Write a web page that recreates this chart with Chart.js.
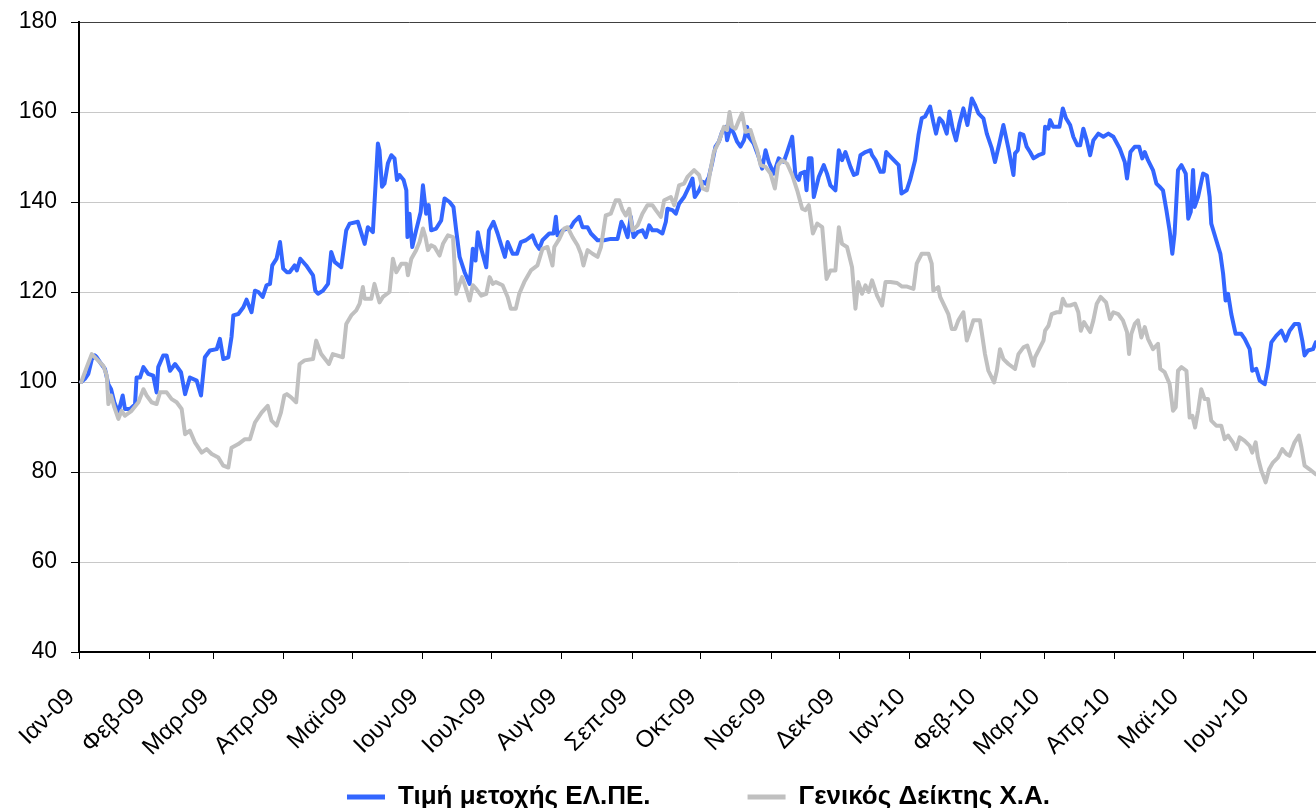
<!DOCTYPE html>
<html>
<head>
<meta charset="utf-8">
<script src="https://cdn.jsdelivr.net/npm/chart.js@4/dist/chart.umd.min.js"></script>
<style>
  html, body { margin: 0; padding: 0; background: #ffffff; overflow: hidden; width: 1316px; height: 808px; }
  #wrap { width: 1397px; height: 820px; }
  canvas { display: block; }
</style>
</head>
<body>
<div id="wrap"><canvas id="c" width="1397" height="820"></canvas></div>
<script>
// x values: calendar days since 1 Jan 2009 (trading days)
const elpeDays = [1,2.6,4.1,5.6,7.0,7.8,9.2,11.4,12.9,14.1,15.5,17.3,19.2,20.2,22.4,24.6,25.3,26.8,28.3,30.4,32.6,34.1,34.8,37.0,38.5,40.0,42.2,44.8,46.6,48.7,51.7,53.6,55.3,57.5,60.5,61.9,63.4,65.6,67.0,67.8,70.0,72.2,73.6,75.8,77.3,78.8,80.7,82.4,83.9,84.9,86.8,88.3,89.7,91.3,92.5,94.7,95.7,97.2,99.8,102.8,103.8,105.0,107.2,109.4,110.8,112.3,115.2,117.4,118.9,122.5,125.5,126.9,129.1,131.3,132.0,133.1,134.2,135.7,137.2,138.6,139.7,140.8,142.6,143.8,144.3,145.2,146.4,148.1,150.1,151.1,152.5,153.6,154.7,156.9,159.1,160.6,162.8,164.5,165.7,167.2,169.4,171.6,173.0,174.2,175.2,176.7,178.9,180.1,182.1,183.9,185.3,187.1,188.3,190.5,192.4,194.1,196.3,199.2,200.7,202.2,203.6,206.6,208.5,209.5,210.2,212.4,216.1,217.5,219.7,221.2,223.4,224.9,227.8,230.7,233.6,236.6,238.3,239.5,241.0,242.4,243.6,245.4,247.5,249.0,250.5,251.9,254.1,256.3,257.8,258.5,260.7,262.2,263.6,265.8,268.0,269.5,270.5,272.4,274.0,275.2,276.7,278.1,279.6,281.1,282.5,284.0,284.7,286.2,287.7,289.1,290.6,292.1,293.5,294.2,296.4,298.6,300.1,301.6,303.0,305.2,307.4,309.6,311.1,313.3,314.7,316.2,316.9,318.8,319.6,320.6,321.8,322.8,325.0,327.2,328.6,330.1,332.3,333.8,335.2,336.7,338.9,340.4,341.8,343.3,345.5,347.7,348.4,349.9,352.1,353.5,354.6,357.2,360.1,361.3,363.6,365.1,367.3,368.8,370.2,371.7,373.9,375.3,376.5,378.0,379.4,381.2,382.4,383.8,385.3,386.8,388.5,390.3,392.2,393.6,395.1,397.3,398.8,401.0,402.4,404.3,406.1,408.3,410.5,411.2,412.4,413.4,414.9,416.3,417.8,419.3,421.5,423.7,424.4,425.9,426.6,428.0,430.7,432.2,433.6,435.4,436.8,438.6,439.8,441.2,442.7,444.2,445.6,447.8,450.0,452.2,454.4,457.2,459.4,460.4,461.9,463.8,465.7,467.1,468.2,469.6,471.8,473.3,474.7,476.2,477.7,479.1,480.3,481.3,482.8,484.3,486.2,487.3,488.4,489.4,490.1,491.6,493.8,495.5,496.7,497.4,499.6,501.4,502.6,503.7,504.8,506.2,508.1,510.6,512.1,514.3,515.4,517.2,518.7,520.9,522.3,523.8,526.0,528.2,530.1,531.8,534.0,535.9,537.4,538.4,539.9,542.1,543.3];
const elpeValues = [100,100.7,101.8,105,105.9,105.5,104.4,102.9,99.5,98.4,95.5,93.2,97,94,94,95,101,101,103.3,101.8,101.4,97.7,103.3,105.9,105.9,102.5,104,102.2,97.3,101,100.3,97,105.5,107,107.3,109.6,105.1,105.5,110,114.8,115.1,116.6,118.3,115.5,120.3,120,118.9,121.5,121.8,125.9,127.4,131.1,125.2,124.4,124.4,125.9,124.8,127.4,125.9,123.7,120.3,119.6,120.3,121.8,128.9,126.7,125.5,133.7,135.2,135.6,130.7,134.4,133.3,153,151.5,143.4,144.1,148.6,150.4,149.7,144.9,146,144.9,142.6,132.2,137.4,130,133.7,137.8,143.7,137.4,139.3,133.7,134.1,135.9,140.8,140,138.9,133.7,127.8,124.4,121.8,129.6,127,133.3,129.6,125.5,133.7,135.6,133,130.7,127.8,131.1,128.5,128.5,131.1,131.5,132.6,130.7,129.6,131.5,133,133,136.7,132.6,133.7,134.4,135.6,136.7,134.4,134.4,133,131.5,131.5,131.8,131.8,135.6,134.4,132.2,136.7,132.2,133.3,133.7,132.2,134.8,133.7,133.7,133,135.6,138.5,138.2,137.4,139.6,141.1,143.4,145.2,141.1,142.6,144.5,144.1,145.6,148.6,152.3,153.4,155.6,156.7,153.7,156.7,155.2,153.4,152.3,153.7,156.7,154.5,153,150,147.4,151.5,148.9,146.3,149.7,148.9,151.1,154.5,146,144.9,146.3,146.7,142.6,149.7,149.7,141.1,145.6,148.2,146.3,143.7,142.6,151.5,149.3,151.1,147.8,146,146.3,150.4,151.1,151.5,150.4,149.3,146.7,146.7,151.1,149.7,148.2,141.9,142.6,144.9,149.3,154.9,158.6,159,161.2,157.8,155.2,158.6,157.8,155.2,160.1,156.3,153.7,157.5,160.8,157.1,163,161.6,159.7,158.6,155.2,151.9,148.9,153,157.1,151.9,146,150.8,151.5,155.2,154.9,152.3,151.1,149.7,150.4,150.8,156.7,156.3,158.2,156.7,156.7,160.8,158.6,157.1,154.5,152.6,152.6,156.3,153.7,150.4,153.7,155.2,154.5,155.2,154.5,151.9,148.9,145.2,151.1,152.3,152.3,149.7,151.1,149.3,147.1,144.1,143.4,142.6,138.2,133.7,128.5,133,147.1,148.2,146.3,136.3,137.8,147.1,138.9,141.1,146.3,145.9,141.1,135.2,131.5,128.5,124.1,118.1,119.6,115.1,110.7,110.7,109.6,107.3,102.5,102.9,100.3,99.5,103.3,108.8,110.3,111.4,109.2,111.4,112.9,112.9,109.2,105.9,107,107.3,108.8];

const indexDays = [1,3.4,5.6,7.8,10.7,12.2,12.9,14.1,15.5,17.3,18.7,20.2,23.1,26.1,28.3,29.7,31.9,34.1,35.6,38.5,40.7,42.9,45.1,46.6,48.7,50.9,53.9,56.1,58.3,61.2,63.4,65.6,67.0,70.0,72.9,75.1,77.3,80.2,82.9,84.6,86.8,88.7,90.2,91.3,93.2,95.4,96.9,99.1,102.8,104.2,106.4,109.8,111.5,115.9,117.4,119.6,121.8,123.3,124.7,125.5,128.4,129.8,132.0,133.5,136.4,137.9,139.4,141.6,143.8,144.5,146.0,148.1,149.6,151.1,152.2,153.3,154.7,156.2,158.4,159.9,162.1,164.3,165.7,167.2,168.3,169.8,171.6,173.0,174.5,176.7,178.9,180.4,181.8,183.1,186.1,188.3,189.7,191.9,193.4,195.6,198.5,201.4,203.6,205.8,208.0,208.8,211.0,213.1,214.6,216.8,219.0,220.5,221.6,223.4,225.6,227.8,229.3,231.4,233.6,235.8,237.3,238.8,240.2,241.7,243.2,245.4,247.5,249.7,251.9,253.4,255.6,257.1,260.0,261.5,263.6,265.8,267.3,270.2,272.4,274.0,275.9,277.4,278.9,281.1,283.3,284.7,285.8,286.9,288.4,289.6,291.3,292.8,295.0,296.4,297.9,299.4,301.6,303.8,305.7,307.1,308.9,311.1,313.3,315.5,317.7,319.1,320.6,322.4,324.3,326.5,328.4,330.1,332.3,333.8,335.2,337.4,339.6,341.1,342.3,344.0,345.5,346.9,348.4,350.6,352.8,354.3,356.5,359.4,361.6,363.8,366.6,368.0,370.2,373.2,374.6,375.3,377.5,378.3,380.5,381.9,383.4,384.9,386.3,388.5,390.0,391.5,392.9,395.8,398.0,399.5,402.0,403.2,404.6,406.1,408.3,411.2,412.7,414.9,416.6,417.8,419.3,420.0,422.2,423.7,424.4,425.9,427.3,429.5,431.0,432.2,433.6,435.4,437.6,439.0,440.1,441.5,444.2,445.6,447.1,448.8,451.2,452.9,454.4,456.5,458.6,460.4,461.3,462.3,463.8,465.2,466.7,468.2,469.6,471.8,474.0,475.0,476.9,479.1,480.6,481.8,482.8,484.3,486.5,487.9,489.1,490.3,491.6,493.0,494.5,496.0,497.4,499.6,501.8,503.3,504.8,506.9,508.4,509.9,512.1,514.3,515.4,516.9,517.9,519.4,521.3,522.8,524.5,526.7,528.6,530.4,531.8,534.0,535.9,537.0,538.4,540.6,543.3];
const indexValues = [100,103.3,106.2,105.1,103.6,101.4,95.1,97,94.4,91.8,93.6,92.5,93.6,95.5,98.4,97,95.5,95.1,97.7,97.7,96.2,95.5,94,88.4,89.2,86.6,84.3,85.1,84,83.2,81.4,81,85.4,86.2,87.3,87.3,91,93.2,94.7,91.4,90.3,93.2,97,97.3,96.6,95.5,104,104.8,105.1,109.2,106.2,104,106.2,105.5,112.9,114.8,115.9,117.4,121.1,118.5,118.5,121.8,117.7,118.9,120,127.4,124.4,126.3,126.3,123.7,127.4,129.3,131.1,134.1,132.2,129.3,130.4,130,128.1,130.7,132.6,132.2,119.6,121.8,123.3,121.1,118.1,121.5,120.7,119.2,119.6,123.3,121.8,122.2,121.5,118.9,116.3,116.3,119.6,122.2,124.8,125.9,129.6,130,125.9,130,131.8,134.1,134.4,132.2,130.4,128.5,125.9,129.3,128.5,127.8,130,137,137.4,140.4,140.4,138.2,137,138.5,133.7,134.8,137.4,139.3,139.3,138.2,136.7,140.4,141.1,139.3,143.7,144.1,145.6,147.1,146,143,142.6,147.1,151.1,153.4,156.7,156,160,156.7,156.3,157.8,159.7,155.6,156,153.7,151.5,148.2,147.8,146.3,143,148.2,149.3,148.5,146,142.6,138.5,138.2,139.3,133,135.2,134.4,122.9,124.8,124.8,134.4,130.7,130,125.5,116.3,122.2,119.6,121.5,120,122.6,119.2,117,122.2,122.2,122,121.2,121.2,120.7,126.3,128.5,128.5,126.3,120.3,121.1,118.9,116.6,115.1,111.8,111.8,113.7,115.5,109.2,111.4,113.7,113.7,106.2,102.5,99.9,102.5,107.3,105.1,104,102.9,106.2,107.7,108.1,106.2,103.6,105.5,107.7,109.2,111.4,112.5,115.1,115.5,115.5,118.5,117,117,117.4,115.5,111.4,113.3,111.1,113.7,117.4,118.9,117.7,114,115.5,115.1,113.7,111.1,106.2,110.7,112.9,113.7,109.9,112.2,109.6,107.3,108.5,102.9,102.2,99.6,93.6,94.4,102.5,103.3,102.5,92.1,92.5,89.9,93.6,98.4,96.2,96.2,91.4,90.3,90.3,87.3,88.1,86.6,85.1,87.7,86.9,85.8,84.3,86.6,83.2,80.3,77.7,80.6,82.1,83.2,85.1,84,83.6,86.6,88.1,85.5,81.4,80.6,79.5];

const monthTickDays = [0,31,59,90,120,151,181,212,243,273,304,334,365,396,424,455,485,516];
const monthTickLabels = ['Ιαν-09','Φεβ-09','Μαρ-09','Απρ-09','Μαϊ-09','Ιουν-09','Ιουλ-09','Αυγ-09','Σεπ-09','Οκτ-09','Νοε-09','Δεκ-09','Ιαν-10','Φεβ-10','Μαρ-10','Απρ-10','Μαϊ-10','Ιουν-10'];
const yTickValues = [40,60,80,100,120,140,160,180];

const seriesNames = ['Τιμή μετοχής ΕΛ.ΠΕ.', 'Γενικός Δείκτης Χ.Α.'];
const BLUE = '#3366FF';
const GREY = '#C0C0C0';

function pairs(xs, ys) { return xs.map((x, i) => ({ x: x, y: ys[i] })); }

const FONT = "'Liberation Sans', Arial, sans-serif";

new Chart(document.getElementById('c'), {
  type: 'line',
  data: {
    datasets: [
      { label: seriesNames[0], data: pairs(elpeDays, elpeValues), borderColor: BLUE, backgroundColor: BLUE,
        borderWidth: 4, pointRadius: 0, tension: 0, borderJoinStyle: 'round', borderCapStyle: 'round', order: 1 },
      { label: seriesNames[1], data: pairs(indexDays, indexValues), borderColor: GREY, backgroundColor: GREY,
        borderWidth: 4, pointRadius: 0, tension: 0, borderJoinStyle: 'round', borderCapStyle: 'round', order: 0 }
    ]
  },
  options: {
    responsive: false,
    animation: false,
    events: [],
    layout: { padding: { top: 22, left: 0, right: 0, bottom: 0 } },
    scales: {
      x: {
        type: 'linear',
        min: 0,
        max: 579,
        afterFit: s => { s.height = 35; s._computeLabelArea = () => null; },
        afterBuildTicks: s => { s.ticks = monthTickDays.map(v => ({ value: v })); },
        grid: { drawOnChartArea: false, drawTicks: true, tickLength: 7, tickColor: '#000', tickWidth: 1 },
        border: { display: true, color: '#000', width: 2 },
        ticks: {
          autoSkip: false,
          minRotation: 45,
          maxRotation: 45,
          padding: 24,
          labelOffset: -8,
          color: '#000',
          font: { family: FONT, size: 24 },
          callback: (v, i) => monthTickLabels[i]
        }
      },
      y: {
        min: 40,
        max: 180,
        afterFit: s => { s.width = 79; s.paddingTop = 10; s.paddingBottom = 10; },
        afterBuildTicks: s => { s.ticks = yTickValues.map(v => ({ value: v })); },
        grid: {
          color: c => (c.tick && c.tick.value === 180) ? '#404040' : (c.tick && c.tick.value === 40 ? '#000' : '#c8c8c8'),
          lineWidth: 1,
          drawTicks: true,
          tickLength: 8,
          tickColor: '#000'
        },
        border: { display: true, color: '#000', width: 2 },
        ticks: {
          padding: 14,
          color: '#000',
          font: { family: FONT, size: 23 }
        }
      }
    },
    plugins: {
      tooltip: { enabled: false },
      legend: {
        position: 'bottom',
        labels: {
          boxWidth: 38,
          boxHeight: 5,
          padding: 97,
          color: '#000',
          font: { family: FONT, size: 26, weight: 'bold' },
          sort: (a, b) => a.datasetIndex - b.datasetIndex,
          generateLabels: chart => Chart.defaults.plugins.legend.labels.generateLabels(chart).map(l => Object.assign(l, { lineWidth: 0 }))
        }
      }
    }
  }
});
</script>
</body>
</html>
